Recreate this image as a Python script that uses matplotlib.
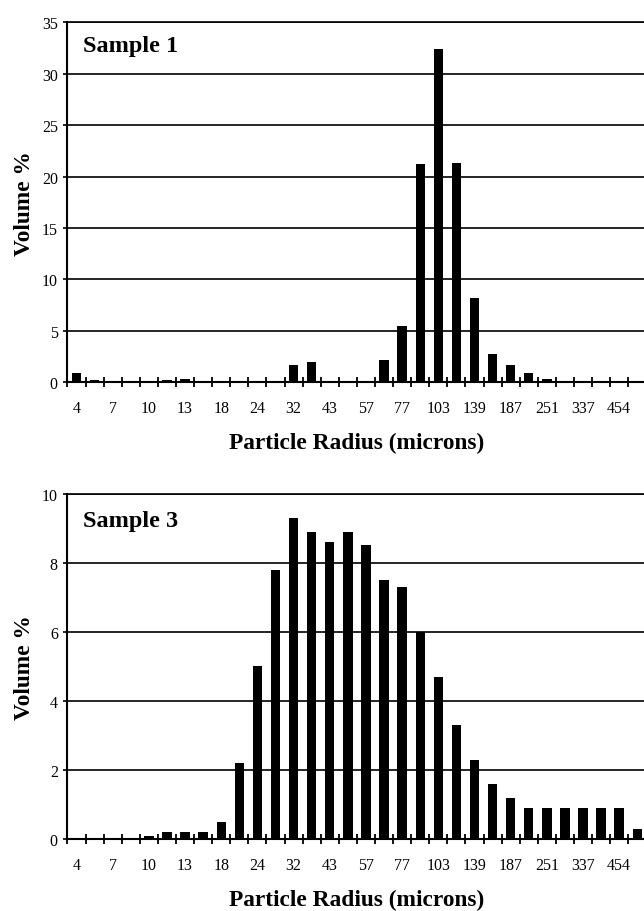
import numpy as np
import matplotlib
matplotlib.use("Agg")
import matplotlib.pyplot as plt

plt.rcParams['font.family'] = ['Liberation Serif', 'DejaVu Serif']

# radius labels shown under every other size bin (microns)
radius_labels = ["4", "7", "10", "13", "18", "24", "32", "43",
                 "57", "77", "103", "139", "187", "251", "337", "454"]
n_bins = 32

# volume % per size bin
sample1 = [0.9, 0.2, 0, 0, 0, 0.2, 0.3, 0, 0, 0, 0, 0,
           1.7, 2.0, 0, 0, 0, 2.2, 5.5, 21.2, 32.4, 21.3, 8.2, 2.8,
           1.7, 0.9, 0.3, 0, 0, 0, 0, 0]
sample3 = [0, 0, 0, 0, 0.1, 0.2, 0.2, 0.2, 0.5, 2.2, 5.0, 7.8,
           9.3, 8.9, 8.6, 8.9, 8.5, 7.5, 7.3, 6.0, 4.7, 3.3, 2.3, 1.6,
           1.2, 0.9, 0.9, 0.9, 0.9, 0.9, 0.9, 0.3]

panels = [
    ("Sample 1", sample1, 35, 5, [0.1048, 0.5797, 0.8988, 0.3947], 0.920),
    ("Sample 3", sample3, 10, 2, [0.1048, 0.0789, 0.8988, 0.3787], 0.907),
]

fig = plt.figure(figsize=(6.44, 9.12), dpi=100)

for name, values, ymax, ystep, pos, text_y in panels:
    ax = fig.add_axes(pos)
    x = np.arange(n_bins)
    ax.bar(x, values, width=0.52, color="black", zorder=3)

    ax.set_xlim(-0.5, n_bins - 0.5)
    ax.set_ylim(0, ymax)
    ax.set_yticks(np.arange(0, ymax + 0.1, ystep))
    ax.grid(axis="y", color="black", linewidth=1.2, zorder=1)

    # labels at every other bin centre, tick marks at bin edges
    ax.set_xticks(x[::2])
    ax.set_xticklabels(radius_labels)
    ax.set_xticks(np.arange(-0.5, n_bins, 1), minor=True)
    ax.tick_params(axis="x", which="major", length=0, pad=13, labelsize=11.5)
    ax.tick_params(axis="x", which="minor", direction="inout", length=7.5, width=1.3)
    ax.tick_params(axis="y", direction="out", length=3, width=1.2, pad=4, labelsize=11.5)

    ax.spines["right"].set_visible(False)
    ax.spines["left"].set_linewidth(1.5)
    ax.spines["bottom"].set_linewidth(1.5)
    ax.spines["top"].set_linewidth(1.2)

    ax.set_ylabel("Volume %", fontsize=16.8, fontweight="bold", labelpad=5)
    ax.set_xlabel("Particle Radius (microns)", fontsize=16.8, fontweight="bold", labelpad=11)
    ax.text(0.027, text_y, name, transform=ax.transAxes, fontsize=17.5,
            fontweight="bold", va="baseline", ha="left")

fig.savefig("out.png", dpi=100)
